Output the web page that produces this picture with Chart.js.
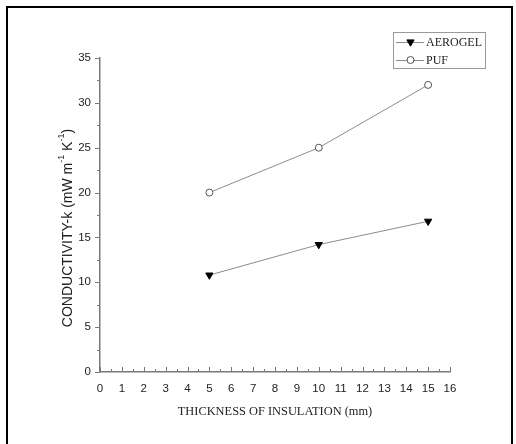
<!DOCTYPE html>
<html>
<head>
<meta charset="utf-8">
<script src="https://cdn.jsdelivr.net/npm/chart.js@4/dist/chart.umd.min.js"></script>
<style>
  body { margin: 0; background: #fff; }
  #wrap { position: relative; width: 516px; height: 444px; overflow: hidden; }
  #frame { position: absolute; left: 6px; top: 6px; width: 503px; height: 460px; border: 2px solid #000; }
  #myChart { position: absolute; left: 0; top: 0; }
</style>
</head>
<body>
<div id="wrap">
  <div id="frame"></div>
  <canvas id="myChart" width="516" height="444"></canvas>
</div>
<script>
// datos
var espesor = [5, 10, 15];            // mm
var aerogel = [10.8, 14.2, 16.8];
var puf = [20, 25, 32];
var nombres = ['AEROGEL', 'PUF'];
var xTicks = [0, 16, 1];
var yTicks = [0, 35, 5];

function puntos(valores) {
    return espesor.map((x, i) => ({ x: x, y: valores[i] }));
}

var grisLinea = '#8c8c8c';
var grisEje = '#7a7a7a';

// marcas menores y mayores de los ejes
var marcasPlugin = {
    id: 'marcas',
    afterDraw(chart) {
        var ctx = chart.ctx;
        var xs = chart.scales.x, ys = chart.scales.y;
        var area = chart.chartArea;
        ctx.save();
        ctx.strokeStyle = grisEje;
        ctx.lineWidth = 1;
        for (var v = xTicks[0]; v <= xTicks[1]; v += 0.5) {
            var px = Math.round(xs.getPixelForValue(v)) + 0.5;
            var len = (v % 1 === 0) ? 5 : 3;
            ctx.beginPath();
            ctx.moveTo(px, area.bottom);
            ctx.lineTo(px, area.bottom - len);
            ctx.stroke();
        }
        for (var w = yTicks[0]; w <= yTicks[1]; w += 2.5) {
            var py = Math.round(ys.getPixelForValue(w)) + 0.5;
            var l2 = (w % 5 === 0) ? 5 : 3;
            ctx.beginPath();
            ctx.moveTo(area.left, py);
            ctx.lineTo(area.left - l2, py);
            ctx.stroke();
        }

        // titulo eje x
        ctx.fillStyle = '#222';
        ctx.font = '12.4px "Liberation Serif"';
        ctx.textAlign = 'center';
        ctx.textBaseline = 'middle';
        ctx.fillText('THICKNESS OF INSULATION (mm)', (area.left + area.right) / 2, 412);

        // titulo eje y con superindices
        var partes = [
            ['CONDUCTIVITY-k (mW m', false],
            ['-1', true],
            [' K', false],
            ['-1', true],
            [')', false]
        ];
        var fNormal = '14px "Liberation Sans"';
        var fSup = '9px "Liberation Sans"';
        var total = 0;
        partes.forEach(p => { ctx.font = p[1] ? fSup : fNormal; total += ctx.measureText(p[0]).width; });
        ctx.translate(68, 228);
        ctx.rotate(-Math.PI / 2);
        ctx.textAlign = 'left';
        ctx.textBaseline = 'middle';
        var cx = -total / 2;
        partes.forEach(p => {
            ctx.font = p[1] ? fSup : fNormal;
            ctx.fillText(p[0], cx, p[1] ? -6 : 0);
            cx += ctx.measureText(p[0]).width;
        });
        ctx.restore();

        // leyenda
        ctx.save();
        ctx.strokeStyle = '#9a9a9a';
        ctx.lineWidth = 1;
        ctx.strokeRect(393.5, 32.5, 92, 36);
        var filas = [
            { y: 42, estilo: 'triangle', rot: 180, r: 4.2, fill: '#000', stroke: '#000' },
            { y: 60, estilo: 'circle', rot: 0, r: 3.5, fill: '#fff', stroke: '#555' }
        ];
        filas.forEach((f, i) => {
            ctx.strokeStyle = grisLinea;
            ctx.beginPath();
            ctx.moveTo(396, f.y + 0.5);
            ctx.lineTo(424, f.y + 0.5);
            ctx.stroke();
            ctx.fillStyle = f.fill;
            ctx.strokeStyle = f.stroke;
            ctx.lineWidth = 1;
            Chart.helpers.drawPoint(ctx, { pointStyle: f.estilo, radius: f.r, rotation: f.rot, borderWidth: 1 }, 410.5, f.y);
            ctx.fillStyle = '#222';
            ctx.font = '12px "Liberation Serif"';
            ctx.textAlign = 'left';
            ctx.textBaseline = 'middle';
            ctx.fillText(nombres[i], 426, f.y + 1);
        });
        ctx.restore();
    }
};

var ctx = document.getElementById('myChart').getContext('2d');
var myChart = new Chart(ctx, {
    type: 'line',
    data: {
        datasets: [{
            label: nombres[0],
            data: puntos(aerogel),
            borderColor: grisLinea,
            borderWidth: 1,
            pointStyle: 'triangle',
            rotation: 180,
            pointRadius: 4.2,
            pointBackgroundColor: '#000',
            pointBorderColor: '#000',
            pointBorderWidth: 1
        }, {
            label: nombres[1],
            data: puntos(puf),
            borderColor: grisLinea,
            borderWidth: 1,
            pointStyle: 'circle',
            pointRadius: 3.5,
            pointBackgroundColor: '#fff',
            pointBorderColor: '#555',
            pointBorderWidth: 1
        }]
    },
    options: {
        responsive: false,
        animation: false,
        layout: { padding: { left: 0, top: 58, right: 66, bottom: 0 } },
        plugins: { legend: { display: false }, tooltip: { enabled: false } },
        scales: {
            x: {
                type: 'linear',
                min: xTicks[0],
                max: xTicks[1],
                afterFit: s => { s.height = 72; },
                ticks: { stepSize: xTicks[2], padding: 10, color: '#222', font: { family: 'Liberation Sans', size: 11.5 } },
                grid: { display: false, drawTicks: false },
                border: { color: grisEje, width: 1.5 }
            },
            y: {
                min: yTicks[0],
                max: yTicks[1],
                afterFit: s => { s.width = 100; },
                ticks: { stepSize: yTicks[2], padding: 9, color: '#222', font: { family: 'Liberation Sans', size: 11.5 } },
                grid: { display: false, drawTicks: false },
                border: { color: grisEje, width: 1.5 }
            }
        }
    },
    plugins: [marcasPlugin]
});
</script>
</body>
</html>
